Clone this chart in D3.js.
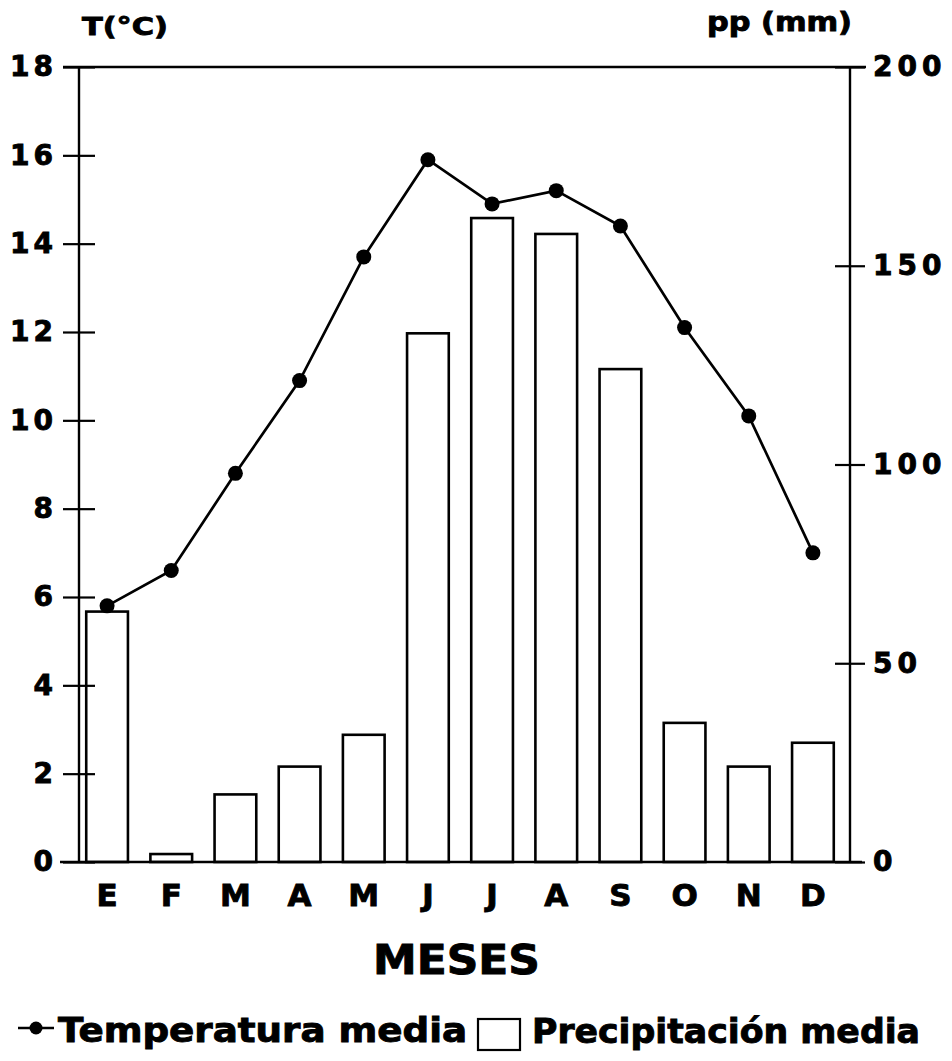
<!DOCTYPE html>
<html>
<head>
<meta charset="utf-8">
<script src="https://cdn.jsdelivr.net/npm/d3@7"></script>
<style>
  html, body { margin: 0; padding: 0; background: #fff; }
  svg { display: block; }
  text { font-family: "DejaVu Sans", "Liberation Sans", sans-serif; font-weight: bold; fill: #000;
         stroke: #000; stroke-width: 0.9px; }
</style>
</head>
<body>
<svg id="chart" width="952" height="1061"></svg>
<script>
// Monthly climate data
const months = ["E", "F", "M", "A", "M", "J", "J", "A", "S", "O", "N", "D"];
const temperature = [5.8, 6.6, 8.8, 10.9, 13.7, 15.9, 14.9, 15.2, 14.4, 12.1, 10.1, 7.0];   // °C
const precipitation = [63, 2, 17, 24, 32, 133, 162, 158, 124, 35, 24, 30];                  // mm
const tempTicks = [0, 2, 4, 6, 8, 10, 12, 14, 16, 18];
const precipTicks = [0, 50, 100, 150, 200];

const svg = d3.select("#chart");

const plotLeft = 79, plotRight = 850, plotTop = 67, plotBottom = 862;

const x = d3.scaleBand()
  .domain(d3.range(months.length))
  .range([75, 845])
  .paddingInner(0.35)
  .paddingOuter(0.175);

const yT = d3.scaleLinear().domain([0, 18]).range([plotBottom, plotTop]);
const yP = d3.scaleLinear().domain([0, 200]).range([plotBottom, plotTop]);

// Precipitation bars
svg.append("g")
  .selectAll("rect")
  .data(precipitation)
  .join("rect")
  .attr("x", (d, i) => x(i))
  .attr("y", d => yP(d))
  .attr("width", x.bandwidth())
  .attr("height", d => yP(0) - yP(d))
  .attr("fill", "#fff")
  .attr("stroke", "#000")
  .attr("stroke-width", 2.6);

// Frame: top and bottom rules
svg.append("line").attr("x1", 63).attr("x2", 866).attr("y1", plotTop).attr("y2", plotTop)
  .attr("stroke", "#000").attr("stroke-width", 2.4);
svg.append("line").attr("x1", 60).attr("x2", 862).attr("y1", plotBottom).attr("y2", plotBottom)
  .attr("stroke", "#000").attr("stroke-width", 2.4);

// Left temperature axis
const axL = svg.append("g")
  .attr("transform", `translate(${plotLeft},0)`)
  .call(d3.axisLeft(yT).tickValues(tempTicks).tickSize(16).tickPadding(11).tickSizeOuter(0));
axL.select(".domain").attr("d", `M0,${plotTop}V${plotBottom}`).attr("stroke-width", 2.4);
axL.selectAll(".tick line").attr("x1", 16).attr("x2", -16).attr("stroke-width", 2.2);
axL.selectAll(".tick text")
  .attr("font-size", 28).attr("font-family", "DejaVu Sans").attr("font-weight", "bold")
  .attr("letter-spacing", 4).attr("x", -22);

// Right precipitation axis
const axR = svg.append("g")
  .attr("transform", `translate(${plotRight},0)`)
  .call(d3.axisRight(yP).tickValues(precipTicks).tickSize(15).tickPadding(8).tickSizeOuter(0));
axR.select(".domain").attr("d", `M0,${plotTop}V${plotBottom}`).attr("stroke-width", 2.4);
axR.selectAll(".tick line").attr("x1", -15).attr("x2", 15).attr("stroke-width", 2.2);
axR.selectAll(".tick text")
  .attr("font-size", 28).attr("font-family", "DejaVu Sans").attr("font-weight", "bold")
  .attr("letter-spacing", 5).attr("x", 23);

// Temperature line with dots
const line = d3.line()
  .x((d, i) => x(i) + x.bandwidth() / 2)
  .y(d => yT(d));
svg.append("path")
  .datum(temperature)
  .attr("d", line)
  .attr("fill", "none")
  .attr("stroke", "#000")
  .attr("stroke-width", 2.7);
svg.append("g")
  .selectAll("circle")
  .data(temperature)
  .join("circle")
  .attr("cx", (d, i) => x(i) + x.bandwidth() / 2)
  .attr("cy", d => yT(d))
  .attr("r", 7.5)
  .attr("fill", "#000");

// Month labels
svg.append("g")
  .selectAll("text")
  .data(months)
  .join("text")
  .attr("x", (d, i) => x(i) + x.bandwidth() / 2)
  .attr("y", 906)
  .attr("text-anchor", "middle")
  .attr("font-size", 31)
  .text(d => d);

// Axis titles
svg.append("text").attr("x", 82).attr("y", 35).attr("font-size", 25)
  .attr("textLength", 86).attr("lengthAdjust", "spacingAndGlyphs").text("T(°C)");
svg.append("text").attr("x", 707).attr("y", 31).attr("font-size", 26)
  .attr("textLength", 145).attr("lengthAdjust", "spacingAndGlyphs").text("pp (mm)");
svg.append("text").attr("x", 373).attr("y", 974).attr("font-size", 40)
  .attr("textLength", 167).attr("lengthAdjust", "spacingAndGlyphs").text("MESES");

// Legend
const lg = svg.append("g");
lg.append("line").attr("x1", 18).attr("x2", 54).attr("y1", 1028).attr("y2", 1028)
  .attr("stroke", "#000").attr("stroke-width", 2.7);
lg.append("circle").attr("cx", 36).attr("cy", 1028).attr("r", 6.5).attr("fill", "#000");
lg.append("text").attr("x", 58).attr("y", 1042).attr("font-size", 33)
  .attr("textLength", 409).attr("lengthAdjust", "spacingAndGlyphs").text("Temperatura media");
lg.append("rect").attr("x", 478).attr("y", 1019).attr("width", 42).attr("height", 31)
  .attr("fill", "#fff").attr("stroke", "#000").attr("stroke-width", 2.2);
lg.append("text").attr("x", 532).attr("y", 1043).attr("font-size", 33)
  .attr("textLength", 388).attr("lengthAdjust", "spacingAndGlyphs").text("Precipitación media");
</script>
</body>
</html>
